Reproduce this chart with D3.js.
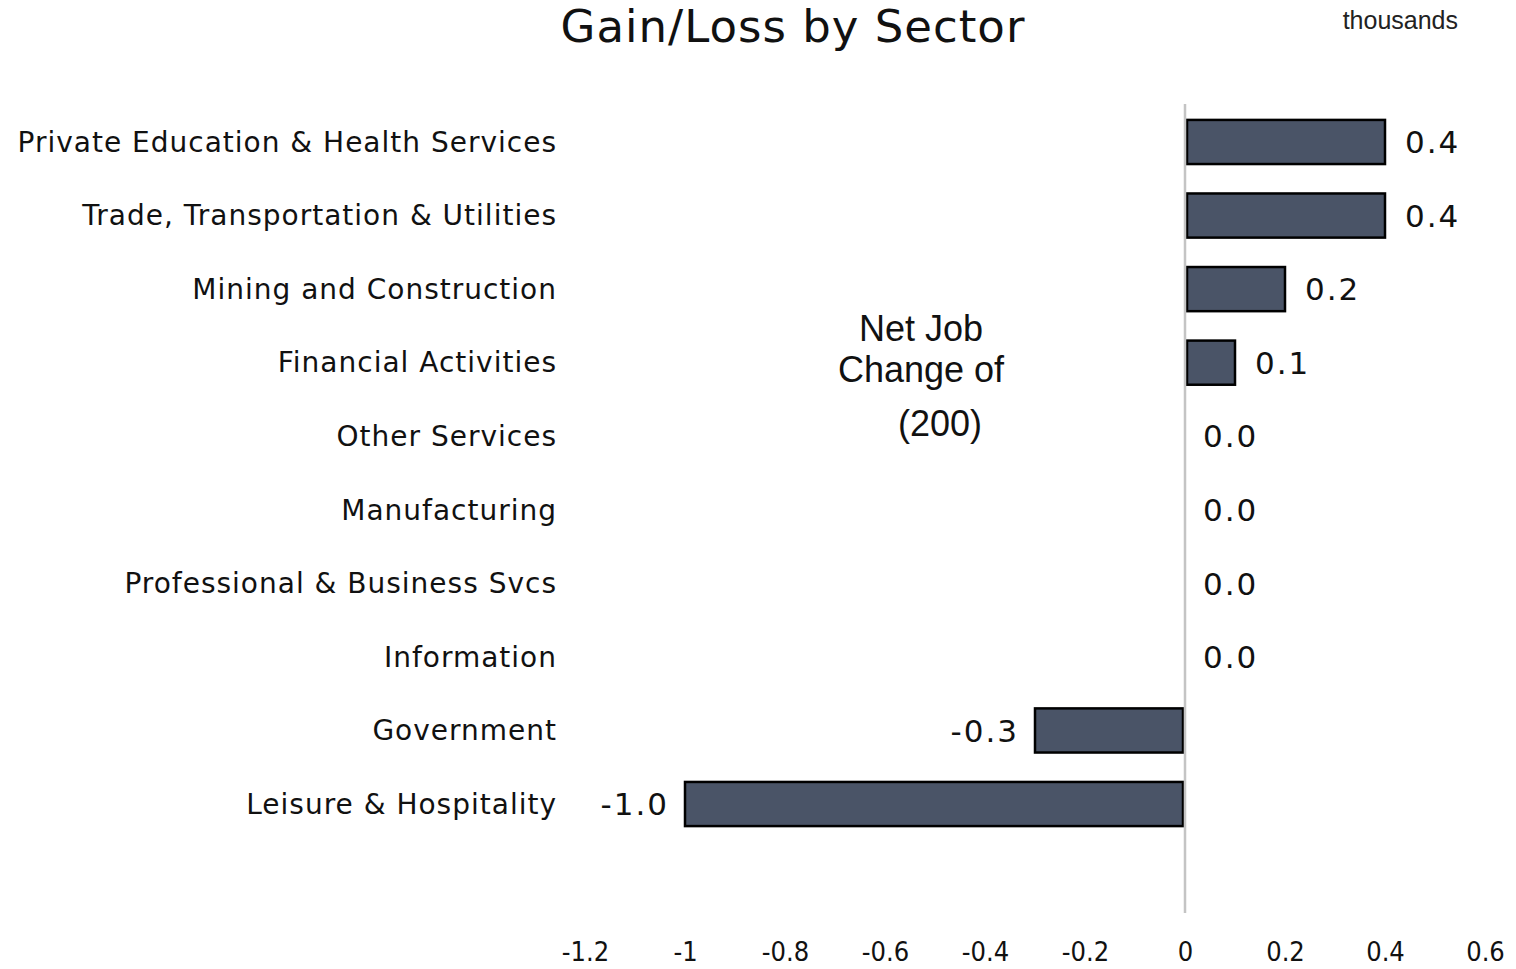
<!DOCTYPE html>
<html>
<head>
<meta charset="utf-8">
<script src="https://cdn.jsdelivr.net/npm/d3@7"></script>
<style>
  body { margin: 0; background: #fff; }
  svg { display: block; }
</style>
</head>
<body>
<svg id="chart" width="1516" height="969"></svg>
<script>
const sectors = [
  "Private Education & Health Services",
  "Trade, Transportation & Utilities",
  "Mining and Construction",
  "Financial Activities",
  "Other Services",
  "Manufacturing",
  "Professional & Business Svcs",
  "Information",
  "Government",
  "Leisure & Hospitality"
];
const changes = [0.4, 0.4, 0.2, 0.1, 0.0, 0.0, 0.0, 0.0, -0.3, -1.0];
const xTicks = [-1.2, -1, -0.8, -0.6, -0.4, -0.2, 0, 0.2, 0.4, 0.6];
const noteLines = ["Net Job", "Change of", "(200)"];

const svg = d3.select("#chart");
const labelFont = "'DejaVu Sans', Verdana, sans-serif";

const x = d3.scaleLinear().domain([-1.2, 0.6]).range([585, 1485]);
const y = d3.scaleBand().domain(sectors).range([105.2, 840.8])
    .paddingInner(0.4).paddingOuter(0.2);

// title
svg.append("text")
    .attr("x", 793).attr("y", 42)
    .attr("text-anchor", "middle")
    .style("font-family", labelFont)
    .style("font-size", "45px")
    .style("letter-spacing", "1px")
    .attr("fill", "#111")
    .text("Gain/Loss by Sector");

svg.append("text")
    .attr("x", 1458).attr("y", 29)
    .attr("text-anchor", "end")
    .style("font-family", "'Liberation Sans', Arial, sans-serif")
    .style("font-size", "25px")
    .attr("fill", "#222")
    .text("thousands");

// bars
const data = sectors.map((s, i) => ({ sector: s, value: changes[i] }));
svg.append("g").selectAll("rect")
    .data(data.filter(d => d.value !== 0))
    .join("rect")
    .attr("x", d => x(Math.min(0, d.value)) + (d.value > 0 ? 2 : 0))
    .attr("y", d => y(d.sector))
    .attr("width", d => Math.abs(x(d.value) - x(0)) - 2)
    .attr("height", y.bandwidth())
    .attr("fill", "#4a5467")
    .attr("stroke", "#000")
    .attr("stroke-width", 2.5);

// zero line
svg.append("line")
    .attr("x1", x(0)).attr("x2", x(0))
    .attr("y1", 104).attr("y2", 913)
    .attr("stroke", "#c4c4c4")
    .attr("stroke-width", 2.5);

// category labels
svg.append("g").selectAll("text")
    .data(data)
    .join("text")
    .attr("x", 557)
    .attr("y", d => y(d.sector) + y.bandwidth() / 2)
    .attr("dy", "0.35em")
    .attr("text-anchor", "end")
    .style("font-family", labelFont)
    .style("font-size", "28px")
    .style("letter-spacing", "1px")
    .attr("fill", "#111")
    .text(d => d.sector);

// value labels
svg.append("g").selectAll("text")
    .data(data)
    .join("text")
    .attr("x", d => d.value > 0 ? x(d.value) + 20 : d.value < 0 ? x(d.value) - 16 : x(0) + 18)
    .attr("y", d => y(d.sector) + y.bandwidth() / 2)
    .attr("dy", "0.36em")
    .attr("text-anchor", d => d.value < 0 ? "end" : "start")
    .style("font-family", labelFont)
    .style("font-size", "31px")
    .style("letter-spacing", "2px")
    .attr("fill", "#111")
    .text(d => d3.format(".1f")(d.value).replace("−", "-"));

// x axis
const axis = svg.append("g")
    .attr("transform", "translate(0,942)")
    .call(d3.axisBottom(x).tickValues(xTicks).tickSize(0).tickPadding(0)
        .tickFormat(d => String(d)));
axis.select(".domain").remove();
axis.selectAll("text")
    .attr("dy", "0.71em")
    .style("font-family", "'DejaVu Sans Condensed', 'DejaVu Sans', sans-serif")
    .style("font-size", "27px")
    .attr("fill", "#111");

// annotation
const noteX = [921, 921, 940];
const noteY = [341, 382, 436];
svg.append("g").selectAll("text")
    .data(noteLines)
    .join("text")
    .attr("x", (d, i) => noteX[i])
    .attr("y", (d, i) => noteY[i])
    .attr("text-anchor", "middle")
    .style("font-family", "'Liberation Sans', Arial, sans-serif")
    .style("font-size", "36px")
    .attr("fill", "#111")
    .text(d => d);
</script>
</body>
</html>
